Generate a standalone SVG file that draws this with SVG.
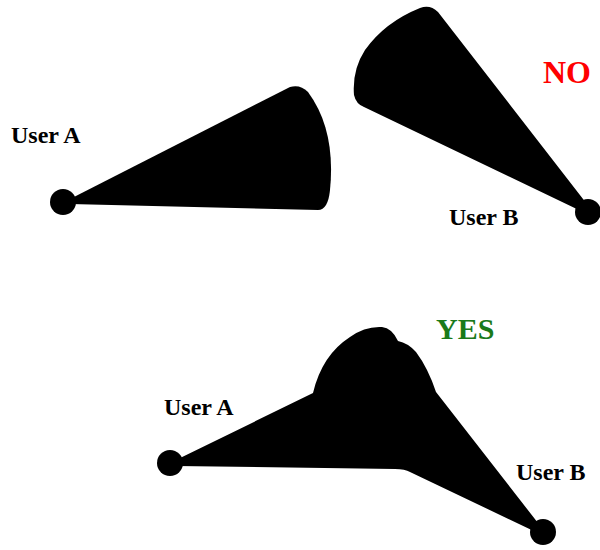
<svg xmlns="http://www.w3.org/2000/svg" width="600" height="550" viewBox="0 0 600 550">
<style>
.lbl{font-family:"Liberation Serif","Times New Roman",serif;font-weight:bold;font-size:24px;fill:#000}
.big{font-family:"Liberation Serif","Times New Roman",serif;font-weight:bold}
.shape{fill:#000}
</style>
<rect width="600" height="550" fill="#fff"/>
<g id="no-case">
<g id="userA-top">
<path class="shape" d="M70,199 L290,87 Q300,84 308,92 Q336,130 330,190 Q328,210 318,210 L70,204 Z"/>
<circle cx="63" cy="202" r="13"/>
<text class="lbl" x="11" y="143">User A</text>
</g>
<g id="userB-top">
<path class="shape" d="M590,208 L438,12 Q430,4 420,8 Q385,22 365,50 Q352,70 354,95 Q356,104 364,107 L583,212 Z"/>
<circle cx="588" cy="212" r="13"/>
<text class="lbl" x="449" y="225">User B</text>
</g>
<text id="no" class="big" x="543" y="83" font-size="32" fill="#ff0000">NO</text>
</g>
<g id="yes-case">
<g id="userA-bottom">
<circle cx="170" cy="463" r="13"/>
<text class="lbl" x="164" y="415">User A</text>
</g>
<g id="userB-bottom">
<circle cx="543" cy="532" r="13"/>
<text class="lbl" x="516" y="480">User B</text>
</g>
<path id="overlap" class="shape" d="M176,460 L313,393 Q322,355 350,337 Q365,326 382,327 Q392,328 398,341 Q408,343 416,352 Q428,368 436,392 L545,532 L540,534 L410,472 Q405,469 395,469 L176,466 Z"/>
<text id="yes" class="big" x="436" y="339" font-size="30" fill="#1a7a1a">YES</text>
</g>
</svg>
